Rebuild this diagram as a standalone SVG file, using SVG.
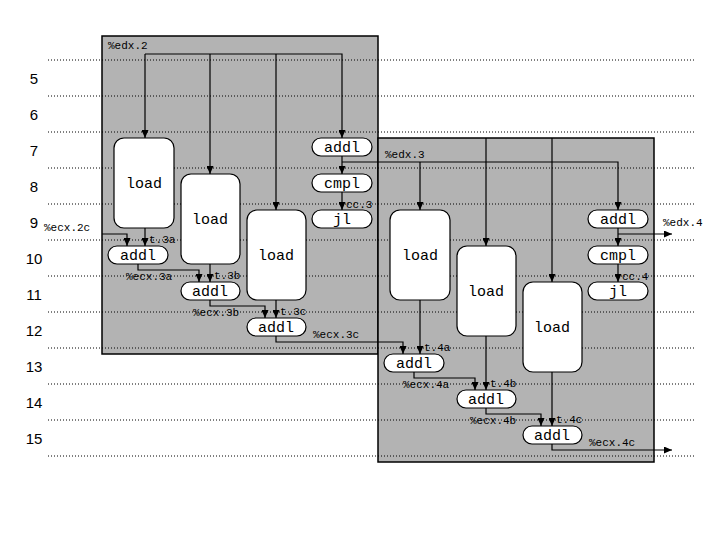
<svg xmlns="http://www.w3.org/2000/svg" width="720" height="540" viewBox="0 0 720 540">
<style>
.box{fill:#b3b3b3;stroke:#000;stroke-width:1.5}
.grid{stroke:#000;stroke-width:1;stroke-dasharray:1,2}
.n{fill:#fff;stroke:#000;stroke-width:1.2}
.op{font-family:"Liberation Mono",monospace;font-size:15px;text-anchor:middle}
.lb{font-family:"Liberation Mono",monospace;font-size:11px}
.row{font-family:"Liberation Sans",sans-serif;font-size:15px;text-anchor:middle}
.c{fill:none;stroke:#000;stroke-width:1.2;marker-end:url(#ah)}
</style>
<defs>
<marker id="ah" markerWidth="8" markerHeight="7" refX="8" refY="3.5" orient="auto" markerUnits="userSpaceOnUse">
<path d="M0,0 L8,3.5 L0,7 z" fill="#000"/>
</marker>
</defs>
<rect width="720" height="540" fill="#fff"/>
<rect class="box" x="102" y="36" width="276" height="318"/>
<rect class="box" x="378" y="138" width="276" height="324"/>
<g id="grid">
<line class="grid" x1="48" y1="60" x2="695" y2="60"/>
<line class="grid" x1="48" y1="96" x2="695" y2="96"/>
<line class="grid" x1="48" y1="132" x2="695" y2="132"/>
<line class="grid" x1="48" y1="168" x2="695" y2="168"/>
<line class="grid" x1="48" y1="204" x2="695" y2="204"/>
<line class="grid" x1="48" y1="240" x2="695" y2="240"/>
<line class="grid" x1="48" y1="276" x2="695" y2="276"/>
<line class="grid" x1="48" y1="312" x2="695" y2="312"/>
<line class="grid" x1="48" y1="348" x2="695" y2="348"/>
<line class="grid" x1="48" y1="384" x2="695" y2="384"/>
<line class="grid" x1="48" y1="420" x2="695" y2="420"/>
<line class="grid" x1="48" y1="456" x2="695" y2="456"/>
</g>
<g id="rows">
<text class="row" x="34" y="84">5</text>
<text class="row" x="34" y="120">6</text>
<text class="row" x="34" y="156">7</text>
<text class="row" x="34" y="192">8</text>
<text class="row" x="34" y="228">9</text>
<text class="row" x="34" y="264">10</text>
<text class="row" x="34" y="300">11</text>
<text class="row" x="34" y="336">12</text>
<text class="row" x="34" y="372">13</text>
<text class="row" x="34" y="408">14</text>
<text class="row" x="34" y="444">15</text>
</g>
<g id="connectors">
<polyline class="c" points="145,54 145,138"/>
<polyline class="c" points="210,54 210,174"/>
<polyline class="c" points="276,54 276,210"/>
<polyline class="c" points="145,54 342,54 342,138"/>
<polyline class="c" points="342,156 342,174"/>
<polyline class="c" points="342,192 342,210"/>
<polyline class="c" points="342,162 618,162 618,210"/>
<polyline class="c" points="420,162 420,210"/>
<polyline class="c" points="486,138 486,246"/>
<polyline class="c" points="552,138 552,282"/>
<polyline class="c" points="618,228 618,246"/>
<polyline class="c" points="618,264 618,282"/>
<polyline class="c" points="618,234 672,234"/>
<polyline class="c" points="102,234 127,234 127,246"/>
<polyline class="c" points="145,228 145,246"/>
<polyline class="c" points="138,264 138,270 199,270 199,282"/>
<polyline class="c" points="210,264 210,282"/>
<polyline class="c" points="210,300 210,306 265,306 265,318"/>
<polyline class="c" points="276,300 276,318"/>
<polyline class="c" points="276,336 276,342 403,342 403,354"/>
<polyline class="c" points="420,300 420,354"/>
<polyline class="c" points="414,372 414,378 475,378 475,390"/>
<polyline class="c" points="486,336 486,390"/>
<polyline class="c" points="486,408 486,414 541,414 541,426"/>
<polyline class="c" points="552,372 552,426"/>
<polyline class="c" points="552,444 552,450 672,450"/>
</g>
<g id="labels">
<text class="lb" x="108" y="49">%edx.2</text>
<text class="lb" x="385" y="158">%edx.3</text>
<text class="lb" x="663" y="226">%edx.4</text>
<text class="lb" x="346" y="208">cc.3</text>
<text class="lb" x="622" y="280">cc.4</text>
<text class="lb" x="44" y="231">%ecx.2c</text>
<text class="lb" x="149" y="243">t.3a</text>
<text class="lb" x="214" y="279">t.3b</text>
<text class="lb" x="280" y="315">t.3c</text>
<text class="lb" x="424" y="351">t.4a</text>
<text class="lb" x="490" y="387">t.4b</text>
<text class="lb" x="556" y="423">t.4c</text>
<text class="lb" x="126" y="280">%ecx.3a</text>
<text class="lb" x="193" y="316">%ecx.3b</text>
<text class="lb" x="313" y="338">%ecx.3c</text>
<text class="lb" x="403" y="388">%ecx.4a</text>
<text class="lb" x="470" y="424">%ecx.4b</text>
<text class="lb" x="589" y="446">%ecx.4c</text>
</g>
<g id="load1"><rect class="n" x="114" y="138" width="60" height="90" rx="10"/><text class="op" x="144" y="188">load</text></g>
<g id="load2"><rect class="n" x="181" y="174" width="59" height="90" rx="10"/><text class="op" x="210" y="224">load</text></g>
<g id="load3"><rect class="n" x="247" y="210" width="59" height="90" rx="10"/><text class="op" x="276" y="260">load</text></g>
<g id="addl_edx3"><rect class="n" x="312" y="138" width="60" height="18" rx="9"/><text class="op" x="342" y="152">addl</text></g>
<g id="cmpl3"><rect class="n" x="312" y="174" width="60" height="18" rx="9"/><text class="op" x="342" y="188">cmpl</text></g>
<g id="jl3"><rect class="n" x="312" y="210" width="60" height="18" rx="9"/><text class="op" x="342" y="224">jl</text></g>
<g id="addl3a"><rect class="n" x="108" y="246" width="60" height="18" rx="9"/><text class="op" x="138" y="260">addl</text></g>
<g id="addl3b"><rect class="n" x="181" y="282" width="59" height="18" rx="9"/><text class="op" x="210" y="296">addl</text></g>
<g id="addl3c"><rect class="n" x="247" y="318" width="59" height="18" rx="9"/><text class="op" x="276" y="332">addl</text></g>
<g id="load4a"><rect class="n" x="390" y="210" width="60" height="90" rx="10"/><text class="op" x="420" y="260">load</text></g>
<g id="load4b"><rect class="n" x="457" y="246" width="59" height="90" rx="10"/><text class="op" x="486" y="296">load</text></g>
<g id="load4c"><rect class="n" x="523" y="282" width="59" height="90" rx="10"/><text class="op" x="552" y="332">load</text></g>
<g id="addl_edx4"><rect class="n" x="588" y="210" width="60" height="18" rx="9"/><text class="op" x="618" y="224">addl</text></g>
<g id="cmpl4"><rect class="n" x="588" y="246" width="60" height="18" rx="9"/><text class="op" x="618" y="260">cmpl</text></g>
<g id="jl4"><rect class="n" x="588" y="282" width="60" height="18" rx="9"/><text class="op" x="618" y="296">jl</text></g>
<g id="addl4a"><rect class="n" x="384" y="354" width="60" height="18" rx="9"/><text class="op" x="414" y="368">addl</text></g>
<g id="addl4b"><rect class="n" x="457" y="390" width="59" height="18" rx="9"/><text class="op" x="486" y="404">addl</text></g>
<g id="addl4c"><rect class="n" x="523" y="426" width="59" height="18" rx="9"/><text class="op" x="552" y="440">addl</text></g>
</svg>
